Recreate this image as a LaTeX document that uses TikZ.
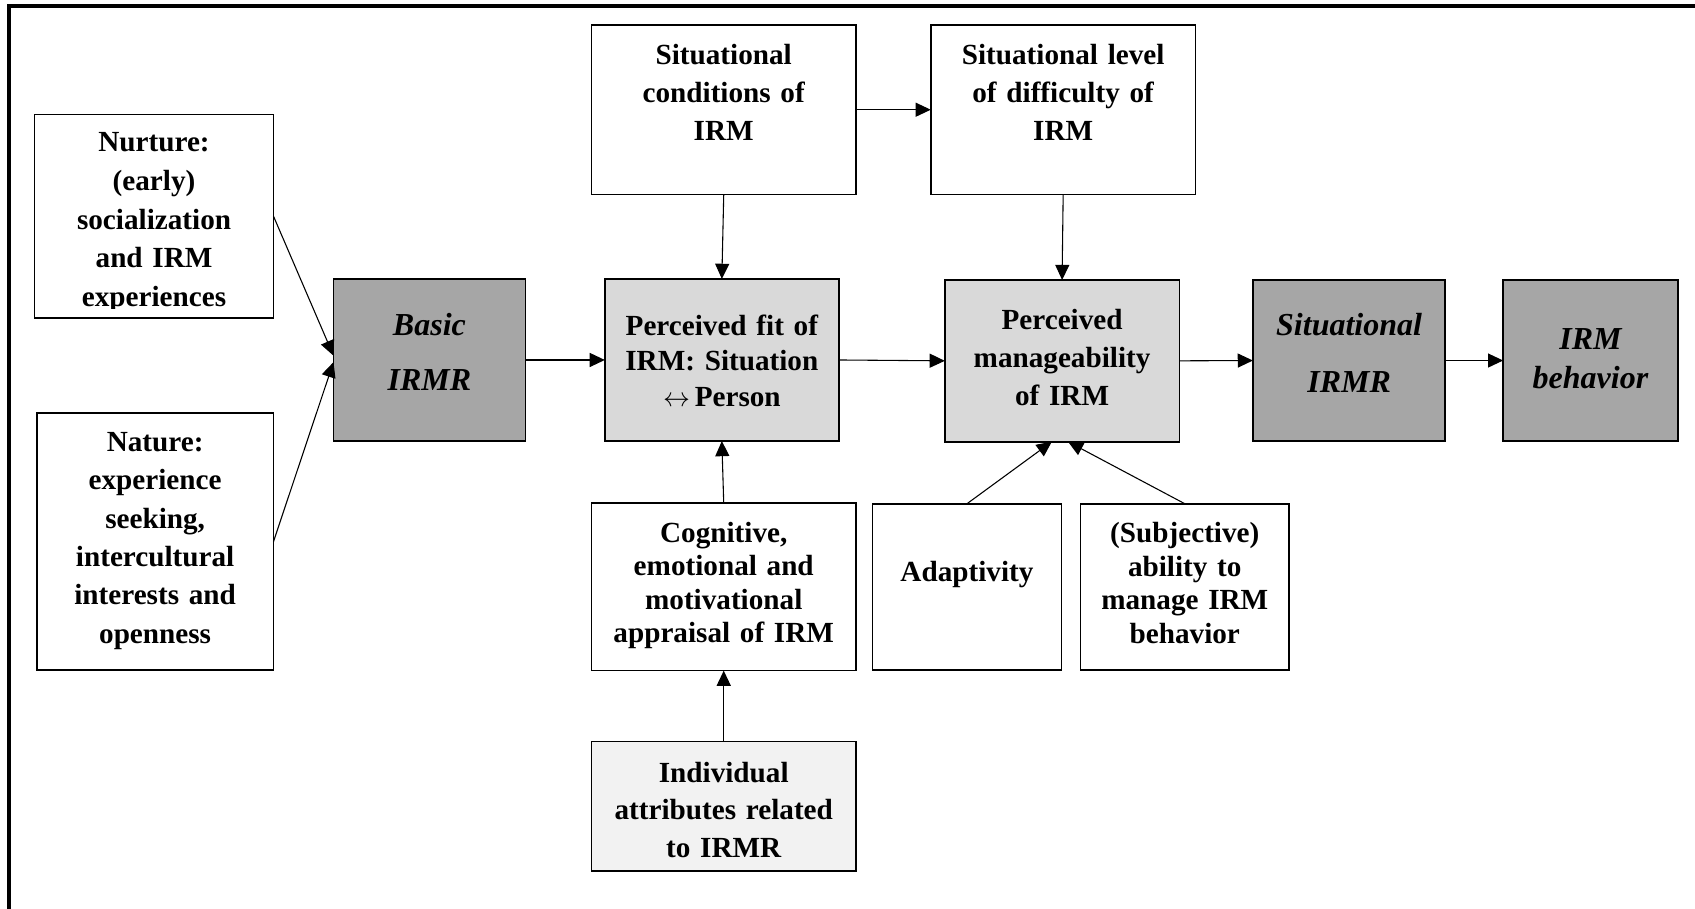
\documentclass[tikz,border=0pt]{standalone}
\usepackage{fontspec}
\setmainfont{Liberation Serif}
\usetikzlibrary{arrows.meta,calc}

\definecolor{boxdark}{HTML}{A6A6A6}
\definecolor{boxmid}{HTML}{D9D9D9}
\definecolor{boxpale}{HTML}{F2F2F2}

% \blockat{name}{x1}{y1}{x2}{y2}{style}: a box given by two corners
\newcommand{\blockat}[6]{%
  \node[#6, minimum width={#4-#2}, minimum height={#5-#3}] (#1)
    at ({(#2+#4)/2},{(#3+#5)/2}) {};}

\tikzset{
  blk/.style={draw=black, line width=1.5pt, inner sep=0pt, outer sep=0pt},
  plainbox/.style={blk, fill=white},
  darkbox/.style={blk, fill=boxdark},
  midbox/.style={blk, fill=boxmid},
  palebox/.style={blk, fill=boxpale},
  lbl/.style={anchor=base, align=center, text width=240pt, inner sep=0pt,
    font=\bfseries\fontsize{27}{#1}\selectfont},
  lbl/.default=35.5,
  ilbl/.style={lbl, font=\bfseries\itshape\fontsize{29.6}{#1}\selectfont},
  ilbl/.default=51,
  conn/.style={line width=1pt, -{Triangle[length=14pt,width=13pt]}},
  frameline/.style={line width=3.7pt},
}

\begin{document}
\begin{tikzpicture}[x=1pt, y=-1pt]
  \path[use as bounding box] (0,0) rectangle (1568,840);
  \clip (0,0) rectangle (1568,840);

  % outer frame (larger than the page on the right and bottom)
  \draw[frameline] (8.6,5.5) rectangle (1700,1000);

  % boxes
  \blockat{nurt}{32}{106}{253}{294}{plainbox}
  \blockat{nat}{34}{382}{253}{620}{plainbox}
  \blockat{basic}{308.5}{258}{486}{408}{darkbox}
  \blockat{sc}{547}{23}{792}{180}{plainbox}
  \blockat{sl}{861}{23}{1106}{180}{plainbox}
  \blockat{fit}{559.5}{258}{776}{408}{midbox}
  \blockat{mng}{874}{259}{1091}{408.6}{midbox}
  \blockat{sirmr}{1159}{259}{1337}{408}{darkbox}
  \blockat{beh}{1390.5}{259}{1552}{408}{darkbox}
  \blockat{cog}{547}{465.5}{792}{620.4}{plainbox}
  \blockat{adapt}{807}{466}{982}{620}{plainbox}
  \blockat{subj}{999.6}{466}{1192.5}{620}{plainbox}
  \blockat{indiv}{547}{686}{792}{806}{palebox}

  % texts
  \begin{scope}
    \clip (nurt.north west) rectangle ($(nurt.south east)+(0,-8.5)$);
    \node[lbl=35.75] (nurt-t) at (142.5,140.5)
      {Nurture:\\(early)\\socialization\\and IRM\\experiences};
  \end{scope}
  \node[lbl=35.5] (nat-t) at (143.5,417.5)
    {Nature:\\experience\\seeking,\\intercultural\\interests and\\openness};
  \node[ilbl=51] (basic-t) at (397.25,310) {Basic\\IRMR};
  \node[lbl=35] (sc-t) at (669.5,60) {Situational\\conditions of\\IRM};
  \node[lbl=35] (sl-t) at (983.5,60) {Situational level\\of difficulty of\\IRM};
  \node[lbl=33] (fit-t) at (667.75,310)
    {Perceived fit of\\IRM: Situation\\$\leftrightarrow$\,Person};
  \node[lbl=35.5] (mng-t) at (982.5,304.5) {Perceived\\manageability\\of IRM};
  \node[ilbl=53] (sirmr-t) at (1248,310) {Situational\\IRMR};
  \node[ilbl=36] (beh-t) at (1471.25,323.5) {IRM\\behavior};
  \node[lbl=31] (cog-t) at (669.5,501.5)
    {Cognitive,\\emotional and\\motivational\\appraisal of IRM};
  \node[lbl] (adapt-t) at (894.5,538) {Adaptivity};
  \node[lbl=31] (subj-t) at (1096,502)
    {(Subjective)\\ability to\\manage IRM\\behavior};
  \node[lbl=34.5] (indiv-t) at (669.5,724) {Individual\\attributes related\\to IRMR};

  % connectors
  \draw[conn] (nurt.east) -- ($(basic.west)+(0,-4)$);
  \draw[conn] (nat.east) -- ($(basic.west)+(0,2)$);
  \draw[conn] (basic.east) -- (fit.west);
  \draw[conn] (fit.east) -- (mng.west);
  \draw[conn] (mng.east) -- (sirmr.west);
  \draw[conn] (sirmr.east) -- (beh.west);
  \draw[conn] (sc.east) -- (sl.west);
  \draw[conn] (sc.south) -- (fit.north);
  \draw[conn] (sl.south) -- (mng.north);
  \draw[conn] (cog.north) -- (fit.south);
  \draw[conn] (indiv.north) -- (cog.south);
  \draw[conn] (adapt.north) -- ($(mng.south)+(-9.5,0)$);
  \draw[conn] (subj.north) -- ($(mng.south)+(5.5,0)$);
\end{tikzpicture}
\end{document}
